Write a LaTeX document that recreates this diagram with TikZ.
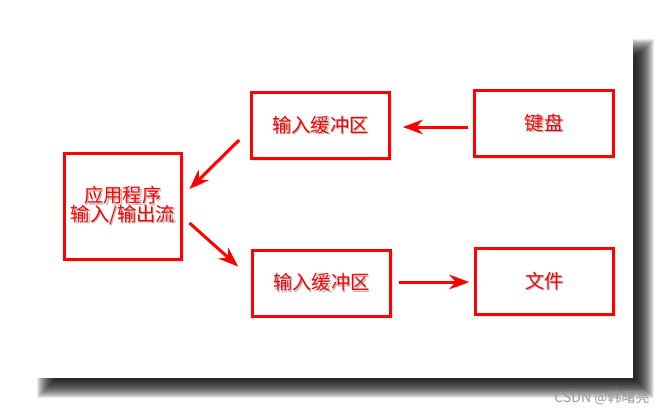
\documentclass[tikz,border=0pt]{standalone}
\usepackage{fontspec}
\setmainfont{Noto Sans CJK SC}
\usetikzlibrary{arrows.meta,shadows}
\definecolor{boxred}{RGB}{255,0,0}
\newcommand{\redtext}[1]{\makebox[0pt][l]{\hspace{1pt}\raisebox{-1pt}{\textcolor{black!28}{#1}}}\textcolor{boxred}{#1}}

\begin{document}
\begin{tikzpicture}[x=0.75pt,y=-0.75pt,
    box/.style={draw=boxred, line width=2.25pt, fill=white, inner sep=0pt, outer sep=0pt,
        minimum width=104pt, minimum height=49.5pt, font=\fontsize{14.5}{17}\selectfont,
        drop shadow={shadow xshift=1.5pt, shadow yshift=-1.5pt, opacity=0.2}},
    arr/.style={boxred, line width=2.25pt, -{Stealth[length=15pt,width=11pt]},
        preaction={draw=black, opacity=0.15, transform canvas={shift={(1.2pt,-1.2pt)}}}}]
    \useasboundingbox (0,0) rectangle (668,414);
    \fill[white] (0,0) rectangle (668,414);

    % Card and its shadow
    \foreach \i in {0,...,18}
        \fill[black, opacity=0.085] (37+\i,39+\i) rectangle (654-\i,398-\i);
    \fill[white] (35,35) rectangle (633,378);

    % Boxes
    \node[box, minimum width=87.75pt, minimum height=79.5pt, align=center] (app) at (123,206.5)
        {\redtext{应用程序}\\[-3pt]\redtext{输入/输出流}};
    \node[box] (bufin) at (320.5,125.5) {\redtext{输入缓冲区}};
    \node[box] (kbd) at (544,123.5) {\redtext{键盘}};
    \node[box] (bufout) at (321.5,283) {\redtext{输入缓冲区}};
    \node[box] (file) at (544.5,281.5) {\redtext{文件}};

    % Arrows
    \draw[arr] ([shift={(-7,3.5)}]kbd.west) -- ([shift={(13,1.5)}]bufin.east);
    \draw[arr] ([shift={(-12,14.5)}]bufin.west) -- ([shift={(8,-17.5)}]app.east);
    \draw[arr] ([shift={(8,16.5)}]app.east) -- ([shift={(-14,-16.5)}]bufout.west);
    \draw[arr] ([shift={(8,-1)}]bufout.east) -- ([shift={(-6,0.5)}]file.west);

    \node[font=\fontsize{10.5}{12}\selectfont, text=black!40] (mark) at (602,398) {CSDN @韩曙亮};
\end{tikzpicture}
\end{document}
